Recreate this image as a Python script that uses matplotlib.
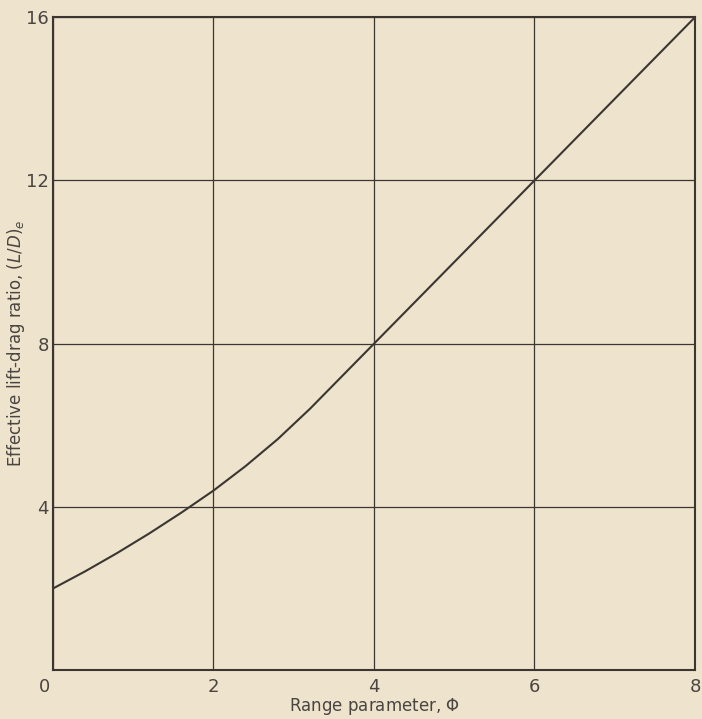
import matplotlib.pyplot as plt

# curve
phi = [0.0, 0.4, 0.8, 1.2, 1.6, 2.0, 2.4, 2.8, 3.2, 3.6, 4.0, 5.0, 6.0, 7.0, 8.0]
ld_e = [2.0, 2.42, 2.87, 3.35, 3.86, 4.4, 5.0, 5.66, 6.4, 7.2, 8.0, 10.0, 12.0, 14.0, 16.0]

x_ticks = [0, 2, 4, 6, 8]
y_ticks = [4, 8, 12, 16]

paper = '#eee3cc'
ink = '#3b3631'
txt = '#4a4540'

fig = plt.figure(figsize=(7.02, 7.19), dpi=100, facecolor=paper)
ax = fig.add_axes([0.0755, 0.068, 0.9145, 0.908])
ax.set_facecolor(paper)

ax.plot(phi, ld_e, color=ink, lw=1.5, solid_capstyle='round', solid_joinstyle='round')

ax.set_xlim(0, 8)
ax.set_ylim(0, 16)
ax.set_xticks(x_ticks)
ax.set_yticks(y_ticks)
ax.grid(True, color=ink, lw=0.9)
ax.set_axisbelow(True)
for s in ax.spines.values():
    s.set_color(ink)
    s.set_linewidth(1.5)

ax.tick_params(length=0, labelsize=13, labelcolor=txt, pad=6)
ax.tick_params(axis='y', pad=3)
ax.set_xticklabels(['', '2', '4', '6', '8'])
# the 0 label sits a bit left of the y axis
ax.annotate('0', xy=(0, 0), xycoords=('data', 'axes fraction'),
            xytext=(-2, -6), textcoords='offset points',
            ha='right', va='top', fontsize=13, color=txt)

ax.set_xlabel('Range parameter, $\\Phi$', fontsize=12, color=txt, labelpad=0)
ax.set_ylabel('Effective lift-drag ratio, $(L/D)_e$', fontsize=12, color=txt, labelpad=-1)

fig.savefig('out.png', dpi=100, facecolor=fig.get_facecolor())
